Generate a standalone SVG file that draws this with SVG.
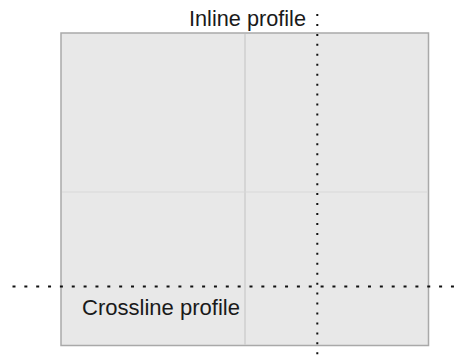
<svg xmlns="http://www.w3.org/2000/svg" width="466" height="361" viewBox="0 0 466 361">
<style>
.lbl{font-family:"Liberation Sans",Arial,sans-serif;font-size:21.5px;fill:#1a1a1a}
.grid{stroke:#cfcfcf;stroke-width:1.5;fill:none}
.dot{stroke:#111;stroke-width:2;fill:none}
</style>
<rect width="466" height="361" fill="#ffffff"/>
<g id="panel">
<rect x="61" y="33" width="367.5" height="312.5" fill="#e8e8e8" stroke="#a9a9a9" stroke-width="1.5"/>
<line class="grid" x1="245" y1="34" x2="245" y2="345"/>
<line x1="62" y1="192" x2="428" y2="192" stroke="#d8d8d8" stroke-width="1.2"/>
</g>
<g id="connectors">
<line class="dot" x1="12.5" y1="286.5" x2="462" y2="286.5" stroke-dasharray="3 8.85"/>
<line class="dot" x1="317.3" y1="14" x2="317.3" y2="356" stroke-dasharray="2 7.95"/>
</g>
<g id="inline-label">
<text class="lbl" x="189" y="25.5" textLength="117" lengthAdjust="spacingAndGlyphs">Inline profile</text>
</g>
<g id="crossline-label">
<text class="lbl" x="82" y="315" textLength="158" lengthAdjust="spacingAndGlyphs">Crossline profile</text>
</g>
</svg>
